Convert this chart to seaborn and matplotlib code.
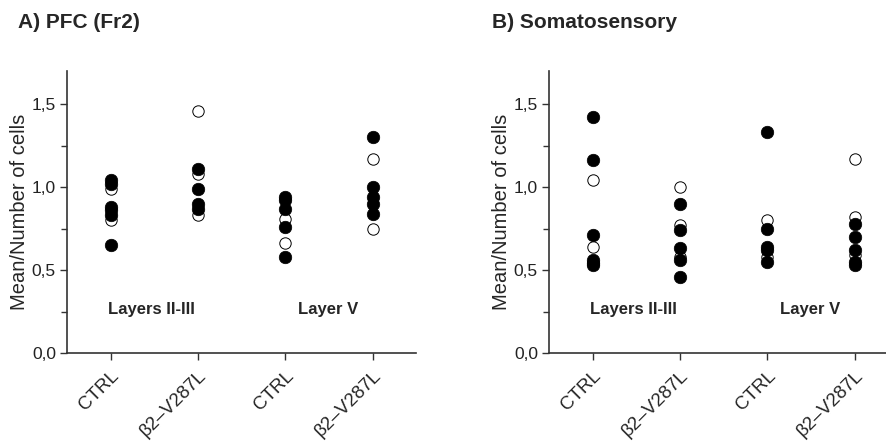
import matplotlib
matplotlib.use("Agg")
import matplotlib.pyplot as plt
import seaborn as sns
import pandas as pd
from matplotlib.ticker import FixedLocator

sns.set_style("ticks")
plt.rcParams['font.family'] = ['Liberation Sans', 'DejaVu Sans']

# ---- data ----
groups = ["CTRL_L23", "B2_L23", "CTRL_LV", "B2_LV"]
tick_labels = ["CTRL", "β2–V287L", "CTRL", "β2–V287L"]
layer_labels = ["Layers II-III", "Layer V"]
panel_titles = ["A) PFC (Fr2)", "B) Somatosensory"]
y_ticks = [0.0, 0.5, 1.0, 1.5]
y_tick_labels = ["0,0", "0,5", "1,0", "1,5"]

# PFC (Fr2)
pfc_filled = {
    "CTRL_L23": [1.04, 1.02, 0.88, 0.86, 0.83, 0.65],
    "B2_L23": [1.11, 0.99, 0.90, 0.87],
    "CTRL_LV": [0.94, 0.92, 0.87, 0.76, 0.58],
    "B2_LV": [1.30, 1.00, 0.94, 0.90, 0.84],
}
pfc_open = {
    "CTRL_L23": [0.99, 0.80],
    "B2_L23": [1.46, 1.08, 0.83],
    "CTRL_LV": [0.81, 0.66],
    "B2_LV": [1.17, 0.75],
}
# Somatosensory
som_filled = {
    "CTRL_L23": [1.42, 1.16, 0.71, 0.56, 0.54, 0.53],
    "B2_L23": [0.90, 0.74, 0.63, 0.56, 0.46],
    "CTRL_LV": [1.33, 0.75, 0.64, 0.62, 0.55],
    "B2_LV": [0.78, 0.70, 0.62, 0.55, 0.53],
}
som_open = {
    "CTRL_L23": [1.04, 0.64],
    "B2_L23": [1.00, 0.77, 0.58],
    "CTRL_LV": [0.80, 0.58],
    "B2_LV": [1.17, 0.82, 0.59],
}


def to_df(d):
    rows = [(g, v) for g in groups for v in d[g]]
    return pd.DataFrame(rows, columns=["group", "value"])


fig = plt.figure(figsize=(8.87, 4.45), dpi=100)
W, H = 887, 445
ax_w = 349.5 / W
ax_b = 92 / H
ax_h = 282.2 / H
axA = fig.add_axes([67 / W, ax_b, ax_w, ax_h])
axB = fig.add_axes([549 / W, ax_b, ax_w, ax_h])

panels = [(axA, pfc_filled, pfc_open), (axB, som_filled, som_open)]
title_x = [18, 492]

for i, (ax, filled, opn) in enumerate(panels):
    sns.stripplot(data=to_df(opn), x="group", y="value", order=groups,
                  jitter=False, color="white", edgecolor="black",
                  linewidth=0.7, size=8.2, ax=ax, zorder=3)
    sns.stripplot(data=to_df(filled), x="group", y="value", order=groups,
                  jitter=False, color="black", edgecolor="black",
                  linewidth=0.5, size=9.0, ax=ax, zorder=4)
    ax.set_xlim(-0.5, 3.5)
    ax.set_ylim(0, 1.7)
    ax.yaxis.set_major_locator(FixedLocator(y_ticks))
    ax.set_yticklabels(y_tick_labels, fontsize=12.5, color="#222222")
    ax.yaxis.set_minor_locator(FixedLocator([0.25, 0.75, 1.25]))
    ax.set_xticks(range(4))
    ax.set_xticklabels(tick_labels, rotation=45, ha="right", va="top",
                       rotation_mode="anchor", fontsize=13.5)
    ax.tick_params(axis="both", which="major", length=5, width=1.0,
                   color="#333333", pad=3)
    ax.tick_params(axis="y", which="minor", length=4, width=1.0, color="#333333")
    ax.tick_params(axis="x", pad=5)
    for s in ["top", "right"]:
        ax.spines[s].set_visible(False)
    for s in ["left", "bottom"]:
        ax.spines[s].set_linewidth(1.2)
        ax.spines[s].set_color("#333333")
    ax.set_xlabel("")
    ax.set_ylabel("Mean/Number of cells", fontsize=14.5, labelpad=2)
    ax.text(0.47, 0.26, layer_labels[0], ha="center", va="center",
            fontsize=12, fontweight="bold")
    ax.text(2.49, 0.26, layer_labels[1], ha="center", va="center",
            fontsize=12, fontweight="bold")
    fig.text(title_x[i] / W, 1 - 23 / H, panel_titles[i], ha="left",
             va="center", fontsize=15, fontweight="bold")

fig.savefig("out.png", dpi=100)
